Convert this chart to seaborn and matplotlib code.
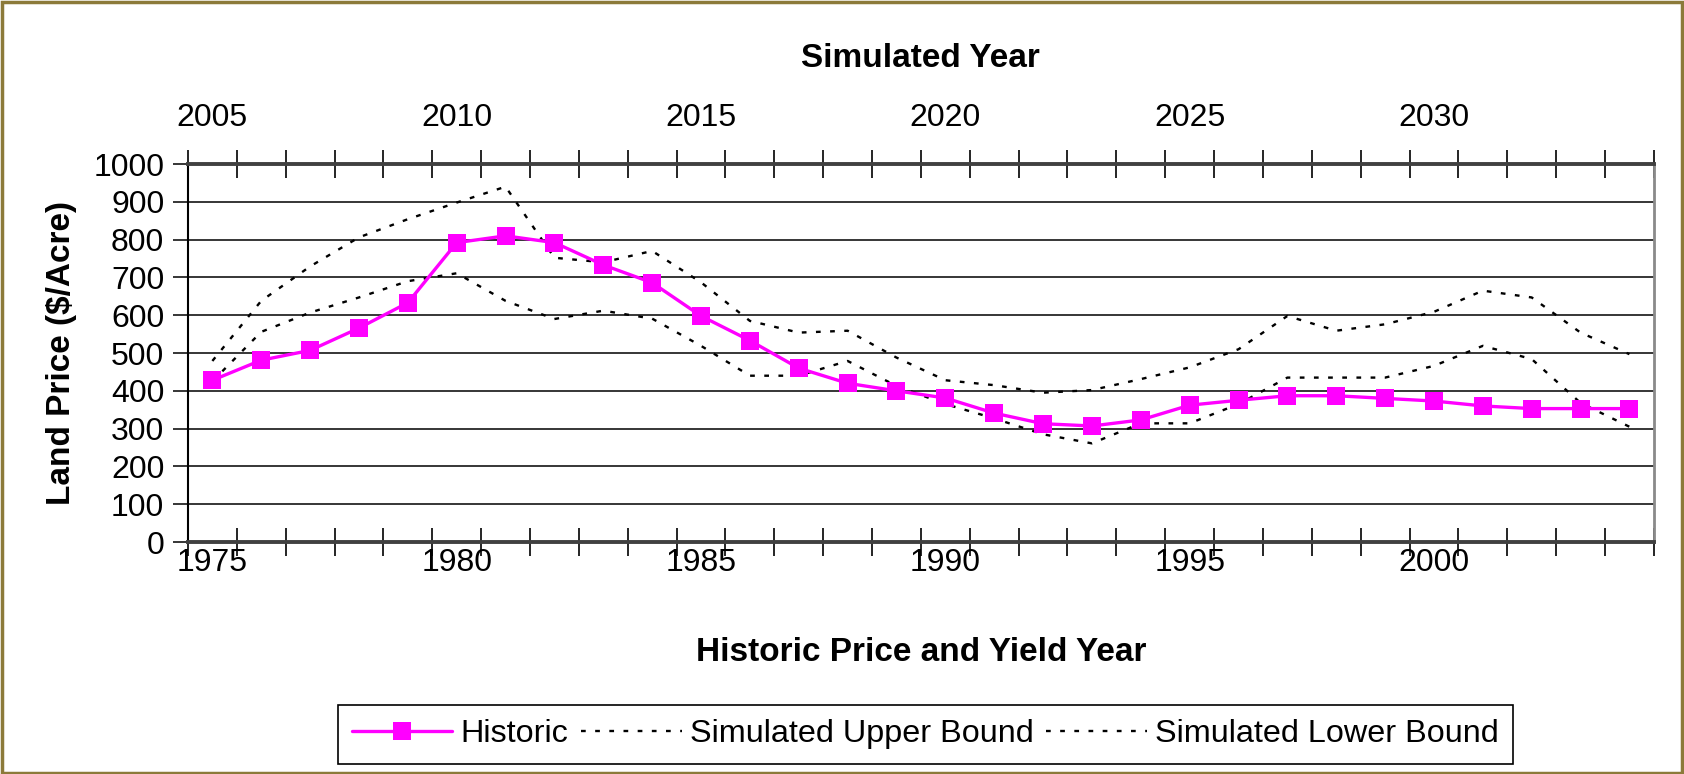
import numpy as np
import pandas as pd
import seaborn as sns
import matplotlib.pyplot as plt
from matplotlib.patches import Rectangle

years = list(range(1975, 2005))
historic = [428, 481, 507, 566, 633, 792, 810, 792, 733, 686,
            598, 533, 460, 420, 400, 381, 341, 313, 307, 323,
            362, 375, 387, 387, 380, 373, 360, 353, 353, 353]
upper = [479, 638, 729, 806, 854, 898, 940, 752, 740, 770,
         687, 585, 554, 559, 488, 428, 415, 395, 402, 431,
         462, 510, 598, 559, 576, 609, 665, 647, 554, 497]
lower = [425, 556, 607, 647, 690, 711, 638, 590, 612, 591,
         519, 440, 440, 479, 413, 365, 327, 285, 261, 314,
         314, 365, 435, 435, 435, 466, 519, 484, 368, 305]
sim_offset = 30
top_labels = [2005, 2010, 2015, 2020, 2025, 2030]
bottom_labels = [1975, 1980, 1985, 1990, 1995, 2000]

sns.set_style('white')
plt.rcParams['font.family'] = ['Liberation Sans', 'DejaVu Sans']
plt.rcParams['text.color'] = 'black'
plt.rcParams['axes.labelcolor'] = 'black'
plt.rcParams['xtick.color'] = 'black'
plt.rcParams['ytick.color'] = 'black'

df = pd.DataFrame({'year': years, 'Historic': historic,
                   'Simulated Upper Bound': upper,
                   'Simulated Lower Bound': lower})

fig = plt.figure(figsize=(16.84, 7.74), dpi=100)
fig.patch.set_facecolor('white')
fig.add_artist(Rectangle((0.001, 0.001), 0.998, 0.997, transform=fig.transFigure,
                         fill=False, edgecolor='#8C7A3A', lw=2.5))
ax = fig.add_axes([0.1116, 0.2997, 0.8705, 0.4884])

sns.lineplot(data=df, x='year', y='Historic', ax=ax, color='#FF00FF', lw=2.4,
             marker='s', markersize=13, markeredgewidth=0, label='Historic', zorder=5)
sns.lineplot(data=df, x='year', y='Simulated Upper Bound', ax=ax, color='black',
             lw=1.7, linestyle=(0, (2, 4)), label='Simulated Upper Bound', zorder=4)
sns.lineplot(data=df, x='year', y='Simulated Lower Bound', ax=ax, color='black',
             lw=1.7, linestyle=(0, (2, 4)), label='Simulated Lower Bound', zorder=4)

ax.set_xlim(1974.5, 2004.5)
ax.set_ylim(0, 1000)
ax.set_yticks(range(0, 1001, 100))
ax.yaxis.grid(True, color='black', lw=1.1)
ax.set_axisbelow(True)

ax.set_xticks(bottom_labels)
ax.set_xticklabels([str(y) for y in bottom_labels])
ax.set_xticks(np.arange(1974.5, 2005, 1), minor=True)
ax.tick_params(axis='x', which='major', length=0, labelsize=23, pad=4)
ax.tick_params(axis='x', which='minor', direction='inout', length=20, width=1.2,
               color='black', bottom=True)
ax.tick_params(axis='y', which='major', direction='out', length=11, width=1.1,
               color='black', left=True, labelsize=23, pad=6)

for s in ['bottom', 'top']:
    ax.spines[s].set_color('#404040')
    ax.spines[s].set_linewidth(2.8)
ax.spines['left'].set_color('black')
ax.spines['left'].set_linewidth(1.5)
ax.spines['right'].set_color('#8a8a8a')
ax.spines['right'].set_linewidth(2)

ax.set_xlabel('Historic Price and Yield Year', fontsize=24, fontweight='bold', labelpad=43)
ax.set_ylabel('Land Price ($/Acre)', fontsize=24, fontweight='bold', labelpad=12)

sec = ax.secondary_xaxis('top', functions=(lambda x: x + sim_offset, lambda x: x - sim_offset))
sec.set_xticks(top_labels)
sec.set_xticklabels([str(y) for y in top_labels])
sec.set_xticks(np.arange(1974.5 + sim_offset, 2005 + sim_offset, 1), minor=True)
sec.tick_params(axis='x', which='major', length=0, labelsize=23, pad=22)
sec.tick_params(axis='x', which='minor', direction='inout', length=20, width=1.2,
                color='black', top=True)
sec.spines['top'].set_visible(False)
sec.set_xlabel('Simulated Year', fontsize=24, fontweight='bold', labelpad=26)

ax.legend(loc='center', bbox_to_anchor=(0.5495, 0.0515), bbox_transform=fig.transFigure,
          ncol=3, frameon=True, fancybox=False, edgecolor='black', fontsize=23.3,
          handlelength=3.1, columnspacing=0.4, handletextpad=0.25, borderpad=0.45,
          numpoints=1, framealpha=1)
ax.get_legend().get_frame().set_linewidth(1.2)

fig.savefig('out.png', dpi=100)
